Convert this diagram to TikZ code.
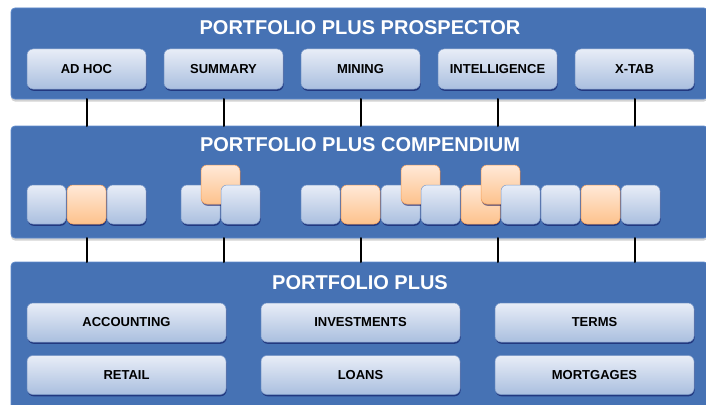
\documentclass[tikz,border=0pt]{standalone}
\usepackage{fontspec}
\setmainfont{Liberation Sans}
\usetikzlibrary{shadows}
\definecolor{panelblue}{HTML}{4672B4}
\definecolor{paneledge}{HTML}{5F8ACB}
\definecolor{btntop}{HTML}{E8EDF7}
\definecolor{btnbot}{HTML}{AABFDF}
\definecolor{btnedge}{HTML}{7E9BC9}
\definecolor{ortop}{HTML}{FFE9D8}
\definecolor{orbot}{HTML}{FDC28C}
\definecolor{oredge}{HTML}{F5A05A}
\tikzset{
  panel/.style={rectangle,rounded corners=4pt,fill=panelblue,draw=paneledge,line width=0.8pt,
    inner sep=0pt,outer sep=0pt,drop shadow={shadow xshift=0pt,shadow yshift=-2.5pt,opacity=0.35}},
  ptitle/.style={text=white,font=\fontsize{20}{24}\selectfont\bfseries},
  btn/.style={rectangle,rounded corners=6pt,top color=btntop,bottom color=btnbot,draw=btnedge,
    line width=0.5pt,inner sep=0pt,outer sep=0pt,font=\fontsize{13}{15}\selectfont\bfseries,
    drop shadow={shadow xshift=0.6pt,shadow yshift=-1.8pt,opacity=0.5,fill=black!70!blue}},
  topbtn/.style={btn,minimum width=119pt,minimum height=40pt},
  basebtn/.style={btn,minimum width=199pt,minimum height=39pt},
  tileb/.style={btn,minimum width=39pt,minimum height=39pt},
  tileo/.style={tileb,top color=ortop,bottom color=orbot,draw=oredge},
  link/.style={line width=2pt,black}
}
\begin{document}
\begin{tikzpicture}[x=1pt,y=-1pt,line cap=round,line join=round]
\clip (0,0) rectangle (706,404);
% the three layers
\node[panel,minimum width=697pt,minimum height=91pt] (prosp) at (359.5,53.5) {};
\node[panel,minimum width=697pt,minimum height=112pt] (comp) at (359.5,182) {};
\node[panel,minimum width=697pt,minimum height=150pt] (base) at (359.5,337) {};
\node[ptitle] (tprosp) at (360,28) {PORTFOLIO PLUS PROSPECTOR};
\node[ptitle] (tcomp) at (360,145) {PORTFOLIO PLUS COMPENDIUM};
\node[ptitle] (tbase) at (360,283) {PORTFOLIO PLUS};
% prospector modules
\foreach \name [count=\i] in {AD HOC,SUMMARY,MINING,INTELLIGENCE,X-TAB}
  \node[topbtn] (p\i) at ({86.5+137*(\i-1)},69) {\name};
% links between layers
\foreach \i in {1,...,5}{
  \draw[link] (p\i |- prosp.south) -- (p\i |- comp.north);
  \draw[link] (p\i |- comp.south) -- (p\i |- base.north);
}
% compendium tiles
\foreach \lx/\ty/\kind [count=\i] in {27/204.5/tileb,67/204.5/tileo,107/204.5/tileb,
    181/204.5/tileb,201/184.5/tileo,221/204.5/tileb,
    301/204.5/tileb,341/204.5/tileo,381/204.5/tileb,401/184.5/tileo,421/204.5/tileb,
    461/204.5/tileo,481/184.5/tileo,501/204.5/tileb,541/204.5/tileb,581/204.5/tileo,621/204.5/tileb}
  \node[\kind] (t\i) at (\lx+19.5,\ty) {};
% base modules
\node[basebtn] (acc) at (126.5,322.5) {ACCOUNTING};
\node[basebtn] (inv) at (360.5,322.5) {INVESTMENTS};
\node[basebtn] (terms) at (594.5,322.5) {TERMS};
\node[basebtn] (retail) at (126.5,375) {RETAIL};
\node[basebtn] (loans) at (360.5,375) {LOANS};
\node[basebtn] (mort) at (594.5,375) {MORTGAGES};
\end{tikzpicture}
\end{document}
